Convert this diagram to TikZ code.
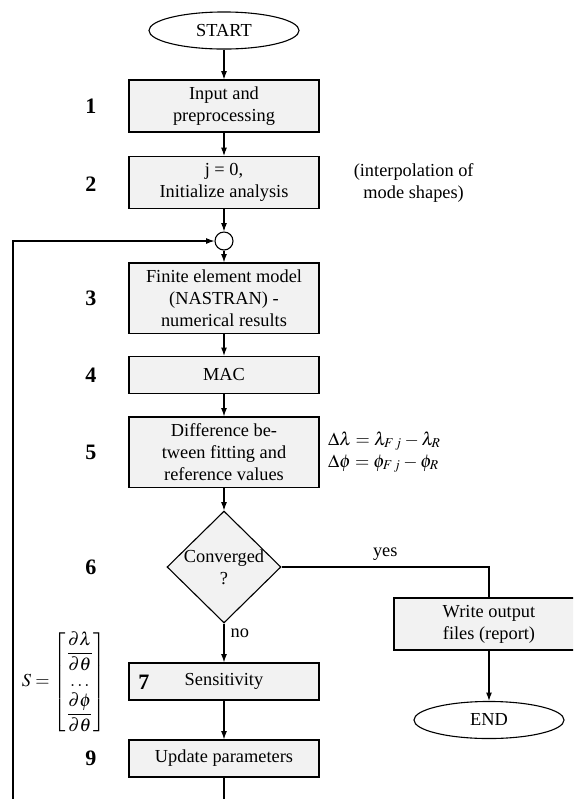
\documentclass[tikz,border=0pt]{standalone}
\usepackage{amsmath}
\usepackage{mathptmx}
\usepackage{fontspec}
\setmainfont{Liberation Serif}
\usetikzlibrary{positioning, shapes.geometric, arrows.meta}
\tikzset{
    process/.style={rectangle, draw=black, fill=black!5, minimum width=103.6pt, minimum height=28.3pt, align=center, inner sep=2pt},
    terminal/.style={ellipse, draw=black, fill=white, minimum width=81.8pt, minimum height=20.2pt, inner sep=0pt},
    decision/.style={diamond, draw=black, fill=black!5, minimum width=62.1pt, minimum height=61pt, inner sep=0pt},
    junction/.style={circle, draw=black, fill=white, minimum size=9.8pt, inner sep=0pt},
    steplabel/.style={font=\large\bfseries},
    flow/.style={-{Latex[length=4.5pt,width=3.2pt]}},
}

\begin{document}
\begin{tikzpicture}[x=0.545pt, y=-0.545pt, line width=0.6pt]
    \useasboundingbox (0,0) rectangle (573,799);
    \clip (0,0) rectangle (573,799);

    \node[terminal] (start) at (224,30.5) {START};
    \node[process] (inp) at (224,106) {Input and\\preprocessing};
    \node[process] (init) at (224,182.5) {j = 0,\\Initialize analysis};
    \node[junction] (circ) at (224,241) {};
    \node[process, minimum height=38.2pt] (fem) at (224,298) {Finite element model\\(NASTRAN) -\\numerical results};
    \node[process, minimum height=20.2pt] (mac) at (224,375) {MAC};
    \node[process, minimum height=38.2pt] (diff) at (224,452) {Difference be-\\tween fitting and\\reference values};
    \node[decision, label={[align=center]center:{Converged\\?}}] (conv) at (224,567) {};
    \node[process, minimum height=20.2pt] (sens) at (224,681.5) {Sensitivity};
    \node[process, minimum height=20.2pt] (upd) at (224,758.5) {Update parameters};
    \node[process] (write) at (489,624) {Write output\\files (report)};
    \node[terminal] (end) at (489,720) {END};

    \node[steplabel] (n1) at (91,106) {1};
    \node[steplabel] (n2) at (91,184) {2};
    \node[steplabel] (n3) at (91,298) {3};
    \node[steplabel] (n4) at (91,375) {4};
    \node[steplabel] (n5) at (91,452) {5};
    \node[steplabel] (n6) at (91,567) {6};
    \node[steplabel] (n7) at (144,682) {7};
    \node[steplabel] (n9) at (91,758) {9};

    \node[right=15pt of init, align=center] (note) {(interpolation of\\mode shapes)};
    \node[right=1pt of diff, align=left] (deltas) {$\Delta\lambda = \lambda_{F\,j} - \lambda_R$\\$\Delta\phi = \phi_{F\,j} - \phi_R$};
    \node (smat) at (64,682) {$S = \begin{bmatrix}\dfrac{\partial\lambda}{\partial\theta}\\ \dots\\ \dfrac{\partial\phi}{\partial\theta}\end{bmatrix}$};

    \coordinate (loopend) at (224,799);
    \coordinate (loopcorner) at (13,799);

    \draw[flow] (start) -- (inp);
    \draw[flow] (inp) -- (init);
    \draw[flow] (init) -- (circ);
    \draw[flow] (circ) -- (fem);
    \draw[flow] (fem) -- (mac);
    \draw[flow] (mac) -- (diff);
    \draw[flow] (diff) -- (conv);
    \draw[flow] (conv) -- node[pos=0.25, right] {no} (sens);
    \draw (conv.east) -| node[pos=0.25, above] {yes} (write.north);
    \draw[flow] (write) -- (end);
    \draw[flow] (sens) -- (upd);
    \draw (upd) -- (loopend);
    \draw[flow] (loopcorner) |- (circ);
\end{tikzpicture}
\end{document}
